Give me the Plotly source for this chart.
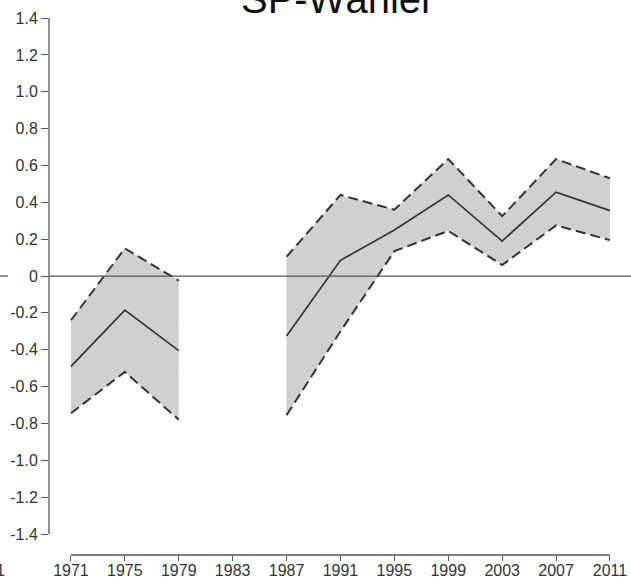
import plotly.graph_objects as go

years = [1971, 1975, 1979, 1983, 1987, 1991, 1995, 1999, 2003, 2007, 2011]
mean = [-0.49, -0.185, -0.405, None, -0.325, 0.085, 0.25, 0.44, 0.19, 0.455, 0.355]
upper = [-0.24, 0.15, -0.025, None, 0.105, 0.44, 0.36, 0.635, 0.325, 0.635, 0.53]
lower = [-0.745, -0.52, -0.78, None, -0.755, -0.30, 0.135, 0.245, 0.06, 0.275, 0.195]
y_ticks = [1.4, 1.2, 1.0, 0.8, 0.6, 0.4, 0.2, 0, -0.2, -0.4, -0.6, -0.8, -1.0, -1.2, -1.4]
y_labels = ["1.4", "1.2", "1.0", "0.8", "0.6", "0.4", "0.2", "0", "-0.2", "-0.4", "-0.6", "-0.8", "-1.0", "-1.2", "-1.4"]
title = "SP-Wähler"

FONT = "Liberation Sans, Arial, sans-serif"
DARK = "#333333"
FILL = "#d0d0d0"
TICKSIZE = 16

# split into contiguous segments (gap at None)
segments = []
cur = []
for i, v in enumerate(mean):
    if v is None:
        if cur:
            segments.append(cur)
        cur = []
    else:
        cur.append(i)
if cur:
    segments.append(cur)

fig = go.Figure()
for seg in segments:
    xs = [years[i] for i in seg]
    up = [upper[i] for i in seg]
    lo = [lower[i] for i in seg]
    fig.add_trace(go.Scatter(x=xs + xs[::-1], y=up + lo[::-1], fill="toself",
                             fillcolor=FILL, line=dict(width=0), mode="lines",
                             hoverinfo="skip", showlegend=False))
for seg in segments:
    xs = [years[i] for i in seg]
    fig.add_trace(go.Scatter(x=xs, y=[upper[i] for i in seg], mode="lines",
                             line=dict(color=DARK, width=2, dash="10px,5px"), showlegend=False))
    fig.add_trace(go.Scatter(x=xs, y=[lower[i] for i in seg], mode="lines",
                             line=dict(color=DARK, width=2, dash="10px,5px"), showlegend=False))
    fig.add_trace(go.Scatter(x=xs, y=[mean[i] for i in seg], mode="lines",
                             line=dict(color=DARK, width=1.7), showlegend=False))

W, H = 631, 584
L, R, T, B = 49, 0, 18, 29
pw = W - L - R
ph = H - T - B

shapes = [
    dict(type="line", xref="paper", yref="y", x0=0, x1=1, y0=0, y1=0,
         line=dict(color="#555555", width=1.3), layer="above"),
    dict(type="line", xref="paper", yref="y", x0=-L / pw, x1=(8 - L) / pw, y0=0, y1=0,
         line=dict(color="#555555", width=1.3)),
    dict(type="line", xref="paper", yref="y", x0=0, x1=0, y0=-1.4, y1=1.4,
         line=dict(color="#555555", width=1.3)),
    dict(type="line", xref="x", yref="paper", x0=years[0], x1=years[-1], y0=0, y1=0,
         line=dict(color="#555555", width=1.3)),
]

fig.update_layout(
    width=W, height=H,
    margin=dict(l=L, r=R, t=T, b=B),
    paper_bgcolor="white", plot_bgcolor="white",
    font=dict(family=FONT, color=DARK),
    shapes=shapes,
    xaxis=dict(range=[1969.37, 2012.56], tickvals=years, ticktext=[str(y) for y in years],
               showgrid=False, zeroline=False, showline=False, ticks="outside",
               ticklen=5, tickcolor="#555555", ticklabelstandoff=-4,
               tickfont=dict(size=TICKSIZE, color=DARK)),
    yaxis=dict(range=[-1.514, 1.4005], tickvals=y_ticks, ticktext=y_labels,
               showgrid=False, zeroline=False, showline=False, ticks="outside",
               ticklen=7, tickcolor="#555555", tickfont=dict(size=TICKSIZE, color=DARK)),
    annotations=[
        dict(text=title, xref="paper", yref="paper", x=(337 - L) / pw, y=1 - 5 / ph,
             xanchor="center", yanchor="bottom", showarrow=False,
             font=dict(size=40, color="#111111", family=FONT)),
        dict(text="1", xref="paper", yref="paper", x=(7 - L) / pw, y=(H - B - 570) / ph,
             xanchor="right", yanchor="middle", showarrow=False,
             font=dict(size=TICKSIZE, color=DARK, family=FONT)),
    ],
)

fig.write_html("out.html", config={"displayModeBar": False},
               post_script="document.body.style.margin='0';document.body.style.overflow='hidden';")
